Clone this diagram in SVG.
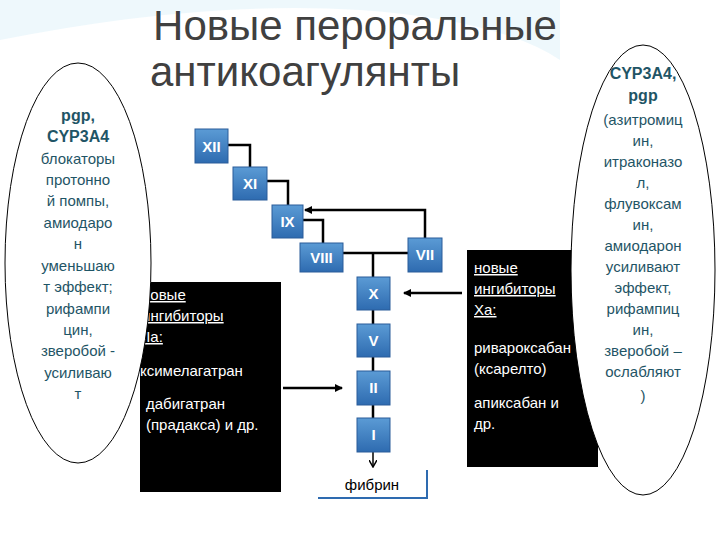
<svg xmlns="http://www.w3.org/2000/svg" width="720" height="540" viewBox="0 0 720 540">
<defs>
<linearGradient id="bg" x1="0" y1="0" x2="0" y2="1"><stop offset="0" stop-color="#5b9bd5"/><stop offset="1" stop-color="#2e6bb0"/></linearGradient>
<marker id="ah" markerWidth="8" markerHeight="8" refX="7" refY="4" orient="auto" markerUnits="userSpaceOnUse"><path d="M0,0 L8,4 L0,8 Z" fill="#000"/></marker>
<marker id="ahs" markerWidth="8" markerHeight="8" refX="6" refY="4" orient="auto" markerUnits="userSpaceOnUse"><path d="M0,0 L7,4 L0,8" fill="none" stroke="#000" stroke-width="1.5"/></marker>
<style>
.f rect{fill:url(#bg);stroke:#2a5d9a;stroke-width:1}
.f text{font-family:"Liberation Sans",Arial,sans-serif;font-weight:bold;font-size:15px;fill:#fff;text-anchor:middle}
.ln{stroke:#000;stroke-width:2.5;fill:none}
.bx{font-family:"Liberation Sans",Arial,sans-serif;font-size:15px;fill:#fff}
.el{font-family:"Liberation Sans",Arial,sans-serif;font-size:15px;fill:#1f5566;text-anchor:middle}
.elb{font-weight:bold;font-size:16px}
</style>
</defs>
<rect width="720" height="540" fill="#fff"/>
<path d="M0,40 Q200,0 360,10 Q500,20 560,60 L560,0 L0,0 Z" fill="#e3f4fa" opacity="0.6"/>
<g id="title" font-family="Liberation Sans, Arial, sans-serif" font-size="42" fill="#404040">
<text x="355" y="40" text-anchor="middle">Новые пероральные</text>
<text x="150" y="86">антикоагулянты</text>
</g>
<g id="leftbox">
<rect x="140" y="282" width="141" height="210" fill="#000"/>
<g class="bx" text-decoration="underline">
<text x="142" y="300">новые</text><text x="142" y="321">ингибиторы</text><text x="142" y="342">IIa:</text></g>
<g class="bx"><text x="140" y="376">ксимелагатран</text><text x="146" y="409">дабигатран</text><text x="146" y="430">(прадакса) и др.</text></g>
</g>
<g id="rightbox">
<rect x="467" y="250" width="131" height="217" fill="#000"/>
<g class="bx" text-decoration="underline"><text x="474" y="273">новые</text><text x="474" y="294">ингибиторы</text><text x="474" y="315">Xa:</text></g>
<g class="bx"><text x="474" y="353">ривароксабан</text><text x="474" y="374">(ксарелто)</text><text x="474" y="408">апиксабан и</text><text x="474" y="429">др.</text></g>
</g>
<g id="leftellipse">
<ellipse cx="78" cy="263" rx="73" ry="200" fill="#fff" stroke="#000" stroke-width="1"/>
<g class="el"><text x="78" y="121" class="elb">pgp,</text><text x="78" y="142" class="elb">CYP3A4</text>
<text x="78" y="164">блокаторы</text><text x="78" y="185">протонно</text><text x="78" y="206">й помпы,</text><text x="78" y="228">амиодаро</text><text x="78" y="249">н</text><text x="78" y="271">уменьшаю</text><text x="78" y="292">т эффект;</text><text x="78" y="314">рифампи</text><text x="78" y="335">цин,</text><text x="78" y="356">зверобой -</text><text x="78" y="378">усиливаю</text><text x="78" y="399">т</text></g>
</g>
<g id="rightellipse">
<ellipse cx="643" cy="270" rx="72" ry="225" fill="#fff" stroke="#000" stroke-width="1"/>
<g class="el"><text x="643" y="79" class="elb">CYP3A4,</text><text x="643" y="101" class="elb">pgp</text>
<text x="643" y="125">(азитромиц</text><text x="643" y="146">ин,</text><text x="643" y="167">итраконазо</text><text x="643" y="188">л,</text><text x="643" y="209">флувоксам</text><text x="643" y="230">ин,</text><text x="643" y="251">амиодарон</text><text x="643" y="272">усиливают</text><text x="643" y="293">эффект,</text><text x="643" y="314">рифампиц</text><text x="643" y="335">ин,</text><text x="643" y="356">зверобой –</text><text x="643" y="377">ослабляют</text><text x="643" y="401">)</text></g>
</g>
<g id="connectors">
<path class="ln" d="M228,145 H250 V167"/>
<path class="ln" d="M267,181 H288 V205"/>
<path class="ln" d="M303,220 H323 V243"/>
<path class="ln" d="M425,238 V210 H305" marker-end="url(#ah)"/>
<path class="ln" d="M343,253 H408"/>
<path class="ln" d="M373,253 V277"/>
<path class="ln" d="M373,310 V324 M373,357 V371 M373,405 V418"/>
<path stroke="#000" stroke-width="1.5" fill="none" d="M373,452 V466" marker-end="url(#ahs)"/>
<path class="ln" d="M462,293 H404" marker-end="url(#ah)"/>
<path class="ln" d="M283,388 H342" marker-end="url(#ah)"/>
</g>
<g id="XII" class="f"><rect x="195" y="129" width="33" height="34"/><text x="211.5" y="152">XII</text></g>
<g id="XI" class="f"><rect x="233" y="167" width="34" height="33"/><text x="250" y="189">XI</text></g>
<g id="IX" class="f"><rect x="272" y="205" width="31" height="33"/><text x="287.5" y="227">IX</text></g>
<g id="VIII" class="f"><rect x="300" y="243" width="43" height="29"/><text x="321.5" y="263">VIII</text></g>
<g id="VII" class="f"><rect x="408" y="238" width="34" height="34"/><text x="425" y="260">VII</text></g>
<g id="X" class="f"><rect x="357" y="277" width="33" height="33"/><text x="373.5" y="299">X</text></g>
<g id="V" class="f"><rect x="357" y="324" width="33" height="33"/><text x="373.5" y="346">V</text></g>
<g id="II" class="f"><rect x="357" y="371" width="33" height="34"/><text x="373.5" y="393">II</text></g>
<g id="I" class="f"><rect x="357" y="418" width="33" height="34"/><text x="373.5" y="440">I</text></g>
<g id="fibrin"><rect x="318" y="470" width="109" height="28" fill="#fff"/><path d="M318,498 H427 V470" stroke="#2e6bb0" stroke-width="2" fill="none"/><text x="372" y="490" text-anchor="middle" font-family="Liberation Sans, Arial, sans-serif" font-size="15">фибрин</text></g>
</svg>
